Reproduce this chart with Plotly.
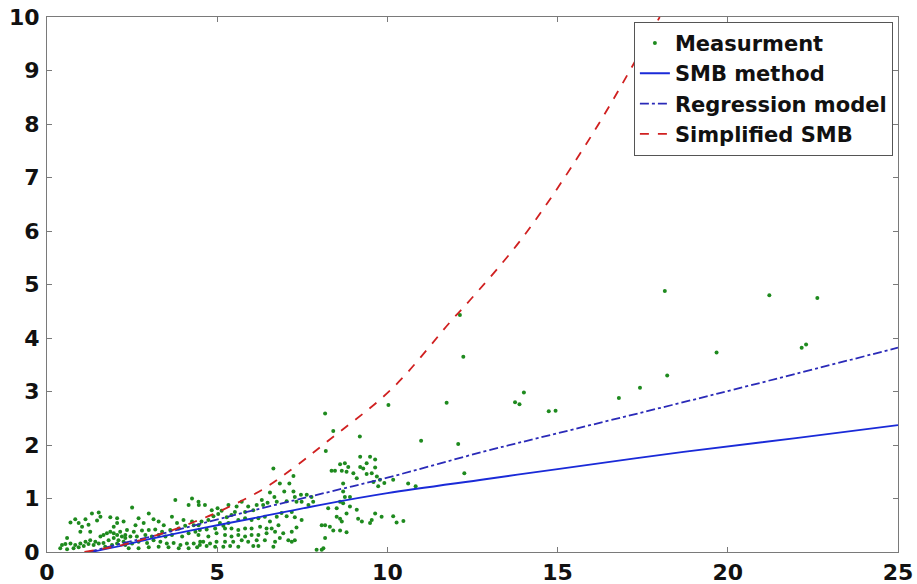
import plotly.graph_objects as go

# Measured points (x, y)
meas_x = [
    # x < 2.4
    0.69, 0.83, 0.93, 1.13, 1.32, 1.52, 1.57, 1.86, 2.06, 1.47, 1.03, 1.22, 1.27, 0.98, 1.96, 2.06, 2.25,
    0.59, 0.44, 0.54, 0.69, 0.83, 0.98, 1.13, 1.27, 1.42, 1.57, 1.66, 1.76, 1.86, 1.96, 2.06, 2.15,
    0.39, 0.59, 0.78, 0.93, 1.08, 1.22, 1.37, 1.52, 1.66, 1.81, 1.96, 2.10, 2.20, 2.30, 1.71, 1.91, 2.06, 2.25,
    # 2.2 - 4.6
    2.50, 3.77, 4.16, 4.26, 4.46, 2.69, 2.99, 2.60, 2.84, 3.13, 3.28, 3.43, 3.67, 3.82, 4.01, 4.26,
    2.35, 2.55, 2.79, 2.99, 3.18, 3.38, 3.62, 3.87, 4.06, 4.31,
    2.30, 2.45, 2.64, 2.89, 3.08, 3.28, 3.48, 3.67, 3.97, 4.16, 4.36,
    2.30, 2.50, 2.69, 2.94, 3.13, 3.33, 3.52, 3.72, 3.92, 4.11, 4.31, 4.50,
    2.40, 2.69, 2.99, 3.28, 3.57, 3.87, 4.16, 4.41,
    # 4.4 - 8.2
    6.65, 7.24, 6.84, 7.12, 7.24, 6.97, 6.55, 6.68, 6.31, 6.48, 6.75, 7.04, 7.28, 7.46, 7.63, 7.77,
    7.33, 7.48, 7.68, 7.82, 4.45, 4.64, 4.84, 5.01, 5.13, 5.33, 5.57, 5.72, 5.91, 6.06, 6.16, 6.35,
    5.82, 5.52, 5.42, 5.28, 5.03, 4.89, 4.74, 4.54, 4.45, 5.08, 5.18, 5.33, 5.62, 5.82, 6.01, 6.21,
    6.40, 6.55, 6.75, 6.89, 7.04, 7.19, 7.28, 7.48, 6.80, 6.60, 6.45, 6.26, 6.01, 5.82, 5.62, 5.42,
    5.23, 4.94, 4.69, 4.49, 4.45, 4.74, 4.98, 5.23, 5.42, 5.62, 5.82, 6.01, 6.21, 6.45, 6.70, 6.94,
    7.19, 7.33, 7.28, 7.09, 6.84, 6.70, 6.40, 6.16, 5.91, 5.72, 5.47, 5.23, 4.98, 4.79, 4.59, 4.49,
    4.69, 4.94, 5.18, 5.38, 5.62, 6.06, 6.21, 6.65, 7.19, 8.07, 7.92, 8.12, 8.07,
    # 8 - 11
    9.20, 9.49, 9.64, 9.39, 9.20, 8.61, 8.75, 8.85, 8.36, 8.46, 8.66, 8.80, 9.00, 9.29, 9.64, 9.54,
    9.39, 9.10, 9.69, 9.78, 9.59, 9.91, 10.17, 9.73, 10.61, 10.83, 8.70, 8.70, 8.75, 8.90, 8.61, 8.70,
    8.26, 8.51, 8.90, 9.10, 8.80, 8.61, 9.14, 9.64, 9.54, 9.83, 10.17, 9.25, 9.49, 10.27, 10.47, 8.66,
    8.17, 8.31, 8.41, 8.61, 8.80, 8.17, 8.51,
    8.17, 8.41, 9.19, 8.19, 10.03, 10.99, 11.74,
    # sparse points beyond 12
    12.13, 12.23, 12.08, 12.26, 13.75, 13.88, 14.01, 14.74, 14.94, 16.80, 17.42, 18.15, 18.22,
    19.67, 21.22, 22.17, 22.30, 22.63,
]
meas_y = [
    0.55, 0.61, 0.54, 0.61, 0.72, 0.74, 0.66, 0.65, 0.63, 0.59, 0.47, 0.51, 0.38, 0.38, 0.47, 0.54, 0.57,
    0.26, 0.13, 0.15, 0.16, 0.13, 0.16, 0.19, 0.22, 0.19, 0.29, 0.32, 0.35, 0.38, 0.35, 0.32, 0.38,
    0.07, 0.05, 0.07, 0.09, 0.11, 0.15, 0.13, 0.16, 0.17, 0.22, 0.26, 0.22, 0.29, 0.32, 0.10, 0.13, 0.16, 0.19,
    0.83, 0.97, 0.88, 1.00, 0.88, 0.63, 0.72, 0.50, 0.54, 0.61, 0.57, 0.50, 0.66, 0.54, 0.60, 0.57,
    0.41, 0.38, 0.40, 0.41, 0.42, 0.38, 0.41, 0.44, 0.49, 0.50,
    0.26, 0.29, 0.29, 0.32, 0.29, 0.32, 0.29, 0.32, 0.29, 0.35, 0.38,
    0.13, 0.16, 0.19, 0.17, 0.22, 0.19, 0.16, 0.17, 0.13, 0.16, 0.16, 0.19,
    0.07, 0.07, 0.09, 0.10, 0.09, 0.07, 0.07, 0.09,
    1.56, 1.42, 1.28, 1.28, 1.13, 1.13, 1.11, 1.03, 0.97, 0.92, 0.94, 0.95, 1.03, 1.07, 1.07, 1.03,
    0.94, 0.94, 0.88, 0.94, 0.94, 0.88, 0.78, 0.82, 0.77, 0.88, 0.85, 0.94, 0.85, 0.78, 0.88, 0.88,
    0.75, 0.75, 0.69, 0.65, 0.71, 0.67, 0.60, 0.57, 0.50, 0.54, 0.49, 0.54, 0.60, 0.63, 0.60, 0.63,
    0.66, 0.57, 0.66, 0.73, 0.67, 0.75, 0.65, 0.60, 0.50, 0.44, 0.44, 0.47, 0.44, 0.44, 0.41, 0.44,
    0.44, 0.44, 0.42, 0.41, 0.32, 0.29, 0.35, 0.32, 0.29, 0.32, 0.29, 0.32, 0.32, 0.35, 0.38, 0.35,
    0.38, 0.46, 0.22, 0.22, 0.26, 0.19, 0.22, 0.22, 0.19, 0.22, 0.19, 0.19, 0.19, 0.16, 0.19, 0.13,
    0.11, 0.10, 0.10, 0.11, 0.10, 0.11, 0.11, 0.10, 0.19, 0.50, 0.04, 0.07, 0.04,
    1.78, 1.78, 1.73, 1.66, 1.59, 1.64, 1.66, 1.59, 1.52, 1.52, 1.52, 1.50, 1.47, 1.56, 1.58, 1.47,
    1.46, 1.38, 1.41, 1.35, 1.31, 1.29, 1.35, 1.23, 1.28, 1.23, 1.28, 1.13, 1.03, 1.03, 0.94, 0.91,
    0.82, 0.82, 0.85, 0.79, 0.72, 0.62, 0.62, 0.72, 0.60, 0.66, 0.67, 0.57, 0.54, 0.55, 0.58, 0.57,
    0.50, 0.47, 0.40, 0.40, 0.37, 0.26, 0.66,
    2.59, 2.26, 2.16, 1.89, 2.75, 2.08, 2.79,
    4.43, 3.65, 2.02, 1.47, 2.80, 2.76, 2.98, 2.63, 2.64, 2.88, 3.07, 4.88, 3.30,
    3.73, 4.80, 3.82, 3.88, 4.75,
]

# SMB method curve
smb_x = [1.3, 2.2, 3.0, 4.35, 5.0, 6.3, 8.2, 10.0, 12.87, 15.0, 18.7, 22.0, 25.0]
smb_y = [0.0, 0.12, 0.24, 0.42, 0.50, 0.66, 0.90, 1.10, 1.36, 1.55, 1.87, 2.13, 2.37]

# Regression model curve
reg_x = [1.2, 2.2, 3.0, 4.35, 6.0, 8.2, 10.0, 12.85, 15.0, 19.7, 25.0]
reg_y = [0.0, 0.16, 0.28, 0.50, 0.77, 1.11, 1.39, 1.88, 2.22, 2.96, 3.82]

# Simplified SMB curve
simp_x = [1.1, 2.2, 3.0, 3.87, 4.35, 5.0, 6.31, 7.3, 8.2, 10.13, 11.9, 12.43, 14.0, 16.1, 18.0]
simp_y = [0.0, 0.13, 0.27, 0.45, 0.57, 0.74, 1.16, 1.60, 2.05, 3.05, 4.34, 4.71, 5.90, 7.89, 10.0]

x_ticks = [0, 5, 10, 15, 20, 25]
y_ticks = list(range(0, 11))

font_family = "DejaVu Sans, Arial, sans-serif"

fig = go.Figure()
fig.add_trace(go.Scatter(
    x=meas_x, y=meas_y, mode="markers", name="Measurment",
    marker=dict(color="#1e8a1e", size=4, line=dict(width=0)),
))
fig.add_trace(go.Scatter(
    x=smb_x, y=smb_y, mode="lines", name="SMB method",
    line=dict(color="#1a2ad8", width=1.8, shape="spline"),
))
fig.add_trace(go.Scatter(
    x=reg_x, y=reg_y, mode="lines", name="Regression model",
    line=dict(color="#2a2ab8", width=1.8, dash="dashdot", shape="spline"),
))
fig.add_trace(go.Scatter(
    x=simp_x, y=simp_y, mode="lines", name="Simplified SMB",
    line=dict(color="#d02020", width=1.8, dash="dash", shape="spline"),
))

axis_common = dict(
    showgrid=False, zeroline=False, showline=True, linecolor="#7a7a7a", linewidth=1.2,
    mirror="ticks", ticks="inside", ticklen=5, tickcolor="#7a7a7a", automargin=False,
    tickfont=dict(family=font_family, size=22, color="#111111", weight="bold"),
)
fig.update_xaxes(range=[0, 25], tickvals=x_ticks, **axis_common)
fig.update_yaxes(range=[0, 10], tickvals=y_ticks, ticklabelstandoff=2, **axis_common)

fig.update_layout(
    width=917, height=584,
    margin=dict(l=47, r=19, t=17, b=32),
    plot_bgcolor="white", paper_bgcolor="white",
    showlegend=True,
    legend=dict(
        x=0.994, y=0.991, xanchor="right", yanchor="top",
        bgcolor="white", bordercolor="#555555", borderwidth=1,
        font=dict(family=font_family, size=21, color="#111111", weight="bold"),
        tracegroupgap=0, itemwidth=30, entrywidth=255,
    ),
)

fig.write_html("out.html")
